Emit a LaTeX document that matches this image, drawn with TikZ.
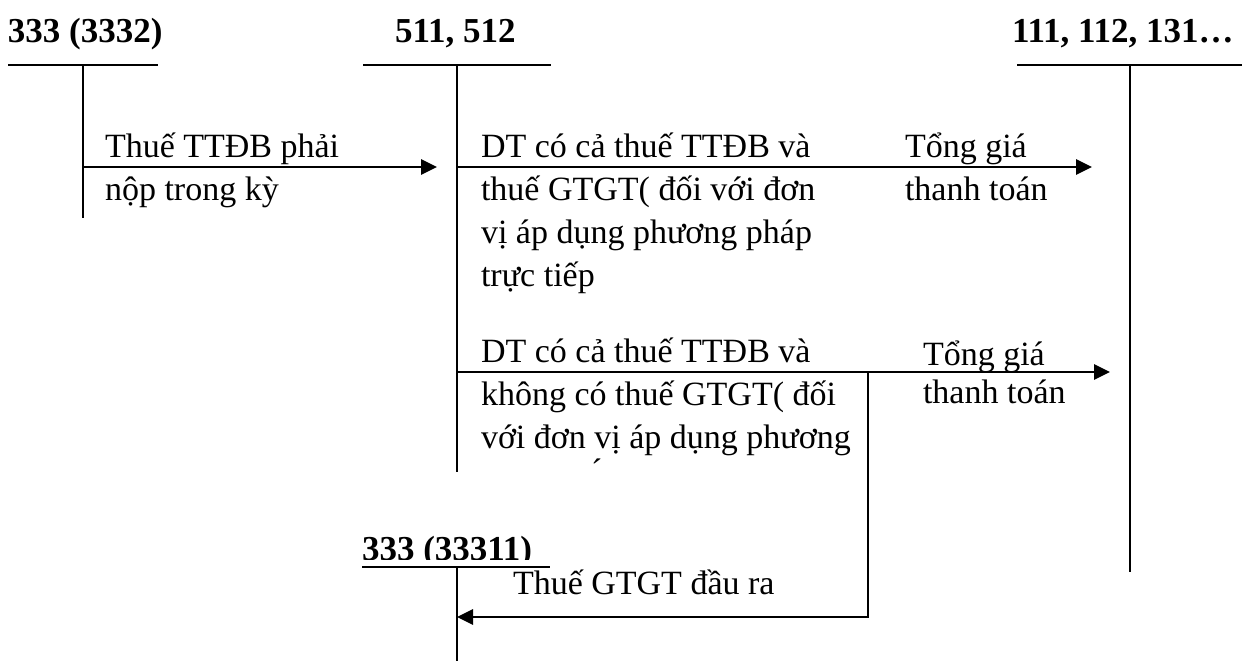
\documentclass[tikz,border=0pt]{standalone}
\usepackage{fontspec}
\setmainfont{Liberation Serif}
\usetikzlibrary{arrows.meta}
\begin{document}
\begin{tikzpicture}[x=1pt,y=-1pt,
  every node/.style={inner sep=0pt, outer sep=0pt, anchor=base west},
  txt/.style={font=\fontsize{34}{43}\selectfont, align=left},
  tight/.style={font=\fontsize{34}{38}\selectfont, align=left},
  title/.style={font=\fontsize{35}{43}\selectfont\bfseries},
  acct/.style={line width=2.2pt},
  flow/.style={line width=2.8pt, -{Triangle[length=16pt,width=15pt]}},
]
\useasboundingbox (0,0) rectangle (1260,661);

% ---- T-account 333 (3332)
\node[title] (t1) at (8,43) {333 (3332)};
\coordinate (h1a) at (8,65);   \coordinate (h1b) at (158,65);
\coordinate (v1t) at (83,65);  \coordinate (v1b) at (83,218);
\draw[acct] (h1a) -- (h1b);
\draw[acct] (v1t) -- (v1b);

% ---- T-account 511, 512
\node[title] (t2) at (395,43) {511, 512};
\coordinate (h2a) at (363,65);  \coordinate (h2b) at (551,65);
\coordinate (v2t) at (457,65);  \coordinate (v2b) at (457,472);
\draw[acct] (h2a) -- (h2b);
\draw[acct] (v2t) -- (v2b);

% ---- T-account 111, 112, 131...
\node[title] (t3) at (1012,43) {111, 112, 131…};
\coordinate (h3a) at (1017,65);  \coordinate (h3b) at (1242,65);
\coordinate (v3t) at (1130,65);  \coordinate (v3b) at (1130,572);
\draw[acct] (h3a) -- (h3b);
\draw[acct] (v3t) -- (v3b);

% ---- T-account 333 (33311)
\begin{scope}
  \clip (340,500) rectangle (570,559);
  \node[title] (t4) at (362,560) {333 (33311)};
\end{scope}
\coordinate (h4a) at (362,567);  \coordinate (h4b) at (550,567);
\coordinate (v4t) at (457,567);  \coordinate (v4b) at (457,661);
\draw[acct] (h4a) -- (h4b);
\draw[acct] (v4t) -- (v4b);

% ---- flows
\coordinate (a1s) at (83,167);   \coordinate (a1e) at (437,167);
\coordinate (a2s) at (457,167);  \coordinate (a2e) at (1092,167);
\coordinate (a3s) at (457,372);  \coordinate (a3e) at (1110,372);
\coordinate (b3)  at (868,372);  \coordinate (b3c) at (868,617);
\coordinate (a4e) at (457,617);

\draw[flow] (a1s) -- (a1e);
\draw[flow] (a2s) -- (a2e);
\draw[flow] (a3s) -- (a3e);
\draw[flow] (b3) -- (b3c) -- (a4e);

% ---- labels (anchored at the baseline of the last line)
\node[txt] (n1) at (105,200) {Thuế TTĐB phải\\nộp trong kỳ};
\node[txt] (n2) at (481,286) {DT có cả thuế TTĐB và\\thuế GTGT( đối với đơn\\vị áp dụng phương pháp\\trực tiếp};
\node[txt] (n3) at (905,200) {Tổng giá\\thanh toán};
\node[txt] (n4) at (481,448) {DT có cả thuế TTĐB và\\không có thuế GTGT( đối\\với đơn vị áp dụng phương};
\node[tight] (n5) at (923,403) {Tổng giá\\thanh toán};
\node[txt] (n6) at (513,594) {Thuế GTGT đầu ra};
\node[txt] (acc) at (591,482) {´};
\end{tikzpicture}
\end{document}
